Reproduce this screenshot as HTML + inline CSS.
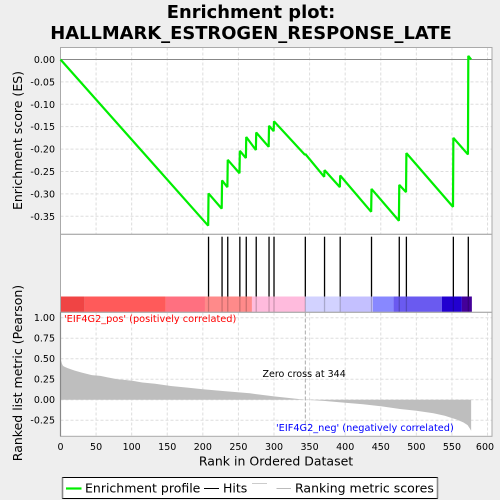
<!DOCTYPE html>
<html>
<head>
<meta charset="utf-8">
<style>
html,body{margin:0;padding:0;background:#eeeeee;}
svg{display:block;font-family:"DejaVu Sans","Liberation Sans",sans-serif;}
</style>
</head>
<body>
<svg id="chart" xmlns="http://www.w3.org/2000/svg" width="500" height="500" viewBox="0 0 500 500"></svg>
<script>
const rankTicks = [0,50,100,150,200,250,300,350,400,450,500,550,600];
const esTicks = [0,-0.05,-0.10,-0.15,-0.20,-0.25,-0.30,-0.35];
const metricTicks = [1,0.75,0.5,0.25,0,-0.25];
const hitRanks = [208,227,235,252,261,275,293,300,344,371,393,437,476,486,552,573];
const esBeforeHit = [-0.371,-0.333,-0.285,-0.254,-0.220,-0.202,-0.195,-0.160,-0.213,-0.262,-0.285,-0.340,-0.360,-0.296,-0.329,-0.212];
const esAfterHit = [-0.299,-0.270,-0.224,-0.204,-0.173,-0.163,-0.148,-0.138,-0.211,-0.247,-0.259,-0.289,-0.280,-0.209,-0.175,0.008];
const lastRank = 577;
const lastEs = 0.0;
const bandEnds = [34,148,203,269,344,393,439,468,536,564,578];
const bandColors = ['#f04444','#ff5a5a','#ff7080','#ff8a8a','#ffbbdd','#d2d2ff','#c4c0ff','#8888ff','#6a5af0','#2200d0','#440099'];
const metricRanks = [0,1,2,3,4,6,10,20,30,44,56,67,80,100,115,133,155,180,200,230,266,300,344,370,400,425,450,477,500,524,540,547,556,566,572,575,577];
const metricValues = [0.50,0.47,0.44,0.42,0.41,0.40,0.385,0.354,0.33,0.30,0.29,0.27,0.25,0.232,0.21,0.195,0.167,0.145,0.127,0.105,0.078,0.04,0,-0.015,-0.037,-0.055,-0.08,-0.113,-0.135,-0.166,-0.195,-0.215,-0.24,-0.276,-0.31,-0.35,-0.378];

const NS = 'http://www.w3.org/2000/svg';
const svg = document.getElementById('chart');
const PL = 60.5, PR = 492;
const xS = r => PL + r * 0.7117;
const yEs = v => 59.5 - v * 447.9;
const yM = v => 399.7 - v * 82;
function mk(tag, attrs, text) {
  const el = document.createElementNS(NS, tag);
  for (const k in attrs) el.setAttribute(k, attrs[k]);
  if (text !== undefined) el.textContent = text;
  svg.appendChild(el);
  return el;
}
let e;
// titles
e = mk('text',{x:251,y:18,'text-anchor':'middle','font-size':'17.9','font-weight':'bold',fill:'#000'},'Enrichment plot:');


e = mk('text',{x:251,y:39,'text-anchor':'middle','font-size':'17.9','font-weight':'bold',fill:'#000'},'HALLMARK_ESTROGEN_RESPONSE_LATE');


// panels
e = mk('rect',{x:PL,y:47.5,width:PR-PL,height:388.8,fill:'#ffffff'});


// x grid
rankTicks.forEach(t => {
  let g = mk('line',{x1:xS(t),x2:xS(t),y1:47.5,y2:234,stroke:'#dddddd','stroke-dasharray':'3 2'});
  
  
  g = mk('line',{x1:xS(t),x2:xS(t),y1:312.5,y2:436,stroke:'#dddddd','stroke-dasharray':'3 2'});
  
  
});
// y grid + labels
esTicks.forEach(t => {
  const g = mk('line',{x1:PL,x2:PR,y1:yEs(t),y2:yEs(t),stroke:'#dddddd','stroke-dasharray':'3 2'});
  
  
  const l = mk('text',{x:55,y:yEs(t)+3.5,'text-anchor':'end','font-size':'9.5',fill:'#000'},t.toFixed(2));
  
  
});
metricTicks.forEach(t => {
  const g = mk('line',{x1:PL,x2:PR,y1:yM(t),y2:yM(t),stroke:'#dddddd','stroke-dasharray':'3 2'});
  
  
  const l = mk('text',{x:55,y:yM(t)+3.5,'text-anchor':'end','font-size':'9.5',fill:'#000'},t.toFixed(2));
  
  
});
// zero line of ES
e = mk('line',{x1:PL,x2:PR,y1:yEs(0),y2:yEs(0),stroke:'#888888','stroke-width':'1'});


// metric area
let areaD = 'M' + xS(metricRanks[0]) + ' ' + yM(0);
metricRanks.forEach((r,i) => { areaD += ' L' + xS(r).toFixed(2) + ' ' + yM(metricValues[i]).toFixed(2); });
areaD += ' L' + xS(metricRanks[metricRanks.length-1]) + ' ' + yM(0) + ' Z';
e = mk('path',{d:areaD,fill:'#bebebe',stroke:'none'});


// zero-cross marker
e = mk('line',{x1:xS(344),x2:xS(344),y1:312.5,y2:431,stroke:'#aaaaaa','stroke-dasharray':'4 2'});


// colour band
let bandStart = 0;
bandEnds.forEach((end,i) => {
  const b = mk('rect',{x:xS(bandStart),y:296.5,width:xS(end)-xS(bandStart),height:15.5,fill:bandColors[i]});
  
  
  bandStart = end;
});
// hits
hitRanks.forEach(r => {
  const h = mk('line',{x1:xS(r),x2:xS(r),y1:236.7,y2:296.5,stroke:'#000000','stroke-width':'1.3'});
  
  
  const o = mk('line',{x1:xS(r),x2:xS(r),y1:296.5,y2:312,stroke:'#000000','stroke-opacity':'0.2','stroke-width':'1.3'});
  
  
});
// panel borders
e = mk('rect',{x:PL,y:47.5,width:PR-PL,height:186.8,fill:'none',stroke:'#aaaaaa','stroke-width':'1'});


e = mk('rect',{x:PL,y:234.3,width:PR-PL,height:78,fill:'none',stroke:'#aaaaaa','stroke-width':'1'});


e = mk('rect',{x:PL,y:312.3,width:PR-PL,height:124,fill:'none',stroke:'#aaaaaa','stroke-width':'1'});


e = mk('line',{x1:PL,x2:PL,y1:312.3,y2:436.3,stroke:'#888888','stroke-width':'1.2'});


// ES line
let esD = 'M' + xS(0) + ' ' + yEs(0);
hitRanks.forEach((r,i) => {
  esD += ' L' + xS(r-0.5).toFixed(2) + ' ' + yEs(esBeforeHit[i]).toFixed(2);
  esD += ' L' + xS(r).toFixed(2) + ' ' + yEs(esAfterHit[i]).toFixed(2);
});
esD += ' L' + xS(lastRank) + ' ' + yEs(lastEs);
e = mk('path',{d:esD,fill:'none',stroke:'#00ee00','stroke-width':'2.2','stroke-linejoin':'bevel'});


// x ticks
rankTicks.forEach(t => {
  const l = mk('text',{x:Math.min(xS(t),485),y:450,'text-anchor':'middle','font-size':'9.5',fill:'#000'},String(t));
  
  
});
// axis titles
e = mk('text',{x:276,y:465.5,'text-anchor':'middle','font-size':'12.5',fill:'#000'},'Rank in Ordered Dataset');


e = mk('text',{x:0,y:0,'text-anchor':'middle','font-size':'12.5',fill:'#000',transform:'translate(22,140.5) rotate(-90)'},'Enrichment score (ES)');


e = mk('text',{x:0,y:0,'text-anchor':'middle','font-size':'12.5',fill:'#000',transform:'translate(22,373) rotate(-90)'},'Ranked list metric (Pearson)');


// annotations
e = mk('text',{x:64,y:322,'font-size':'9.75',fill:'#ff0000'},"'EIF4G2_pos' (positively correlated)");


e = mk('text',{x:262.5,y:377,'font-size':'9.5',fill:'#000'},'Zero cross at 344');


e = mk('text',{x:276,y:431,'font-size':'9.75',fill:'#0000ff'},"'EIF4G2_neg' (negatively correlated)");


// legend
e = mk('rect',{x:62.5,y:477.5,width:375,height:21,fill:'#ffffff',stroke:'#000000','stroke-width':'1'});


e = mk('line',{x1:62.5,x2:62.5,y1:477.5,y2:498.5,stroke:'#888888','stroke-width':'1.6'});


e = mk('line',{x1:437.5,x2:437.5,y1:477.5,y2:498.5,stroke:'#888888','stroke-width':'1.6'});


e = mk('line',{x1:66,x2:81.5,y1:488.5,y2:488.5,stroke:'#00ee00','stroke-width':'2.2'});


e = mk('text',{x:85,y:492.5,'font-size':'12.5',fill:'#000'},'Enrichment profile');


e = mk('line',{x1:204,x2:219,y1:488.5,y2:488.5,stroke:'#000000','stroke-width':'1'});


e = mk('text',{x:223,y:492.5,'font-size':'12.5',fill:'#000'},'Hits');


e = mk('line',{x1:252,x2:267,y1:483.5,y2:483.5,stroke:'#cccccc','stroke-width':'1'});


e = mk('line',{x1:276.5,x2:291,y1:488.5,y2:488.5,stroke:'#bbbbbb','stroke-width':'1'});


e = mk('text',{x:295,y:492.5,'font-size':'12.5',fill:'#000'},'Ranking metric scores');


</script>
</body>
</html>
